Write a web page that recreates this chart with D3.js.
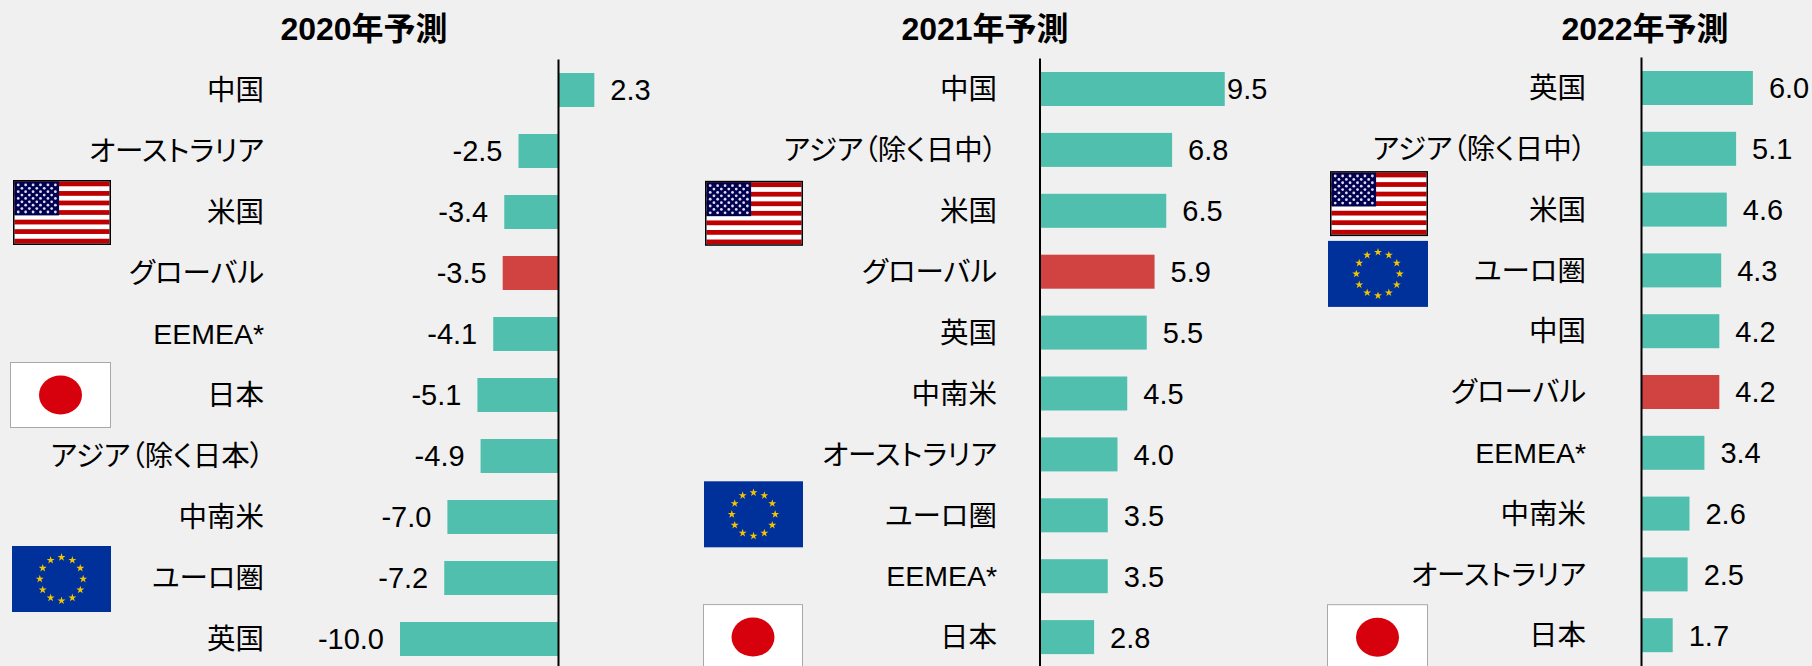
<!DOCTYPE html>
<html lang="ja">
<head>
<meta charset="utf-8">
<script src="https://cdn.jsdelivr.net/npm/d3@7"></script>
<style>
html,body{margin:0;padding:0;background:#f0f0f0;overflow:hidden}
svg{display:block}
text{font-family:"Liberation Sans","Noto Sans CJK JP",sans-serif;fill:#000}
.val{font-size:29px}
.cat text{font-size:28.5px;font-feature-settings:"palt"}
.title{font-size:32px;font-weight:700;text-anchor:middle}
</style>
</head>
<body>
<script>
// ---- data ----
const titles = ["2020年予測", "2021年予測", "2022年予測"];
const categories2020 = ["中国","オーストラリア","米国","グローバル","EEMEA*","日本","アジア（除く日本）","中南米","ユーロ圏","英国"];
const values2020 = [2.3,-2.5,-3.4,-3.5,-4.1,-5.1,-4.9,-7.0,-7.2,-10.0];
const categories2021 = ["中国","アジア（除く日中）","米国","グローバル","英国","中南米","オーストラリア","ユーロ圏","EEMEA*","日本"];
const values2021 = [9.5,6.8,6.5,5.9,5.5,4.5,4.0,3.5,3.5,2.8];
const categories2022 = ["英国","アジア（除く日中）","米国","ユーロ圏","中国","グローバル","EEMEA*","中南米","オーストラリア","日本"];
const values2022 = [6.0,5.1,4.6,4.3,4.2,4.2,3.4,2.6,2.5,1.7];
const globalLabel = "グローバル";
const flagCodes = {"米国":"us","日本":"jp","ユーロ圏":"eu"};

// ---- colours ----
const barColor = "#50bfae", globalColor = "#d14341", bgColor = "#f0f0f0";

// ---- layout ----
const W = 1812, H = 666;
const panels = [
  {title:titles[0],cats:categories2020,vals:values2020,x0:558,pxPerUnit:15.8,labelRight:264,top:59,step:61,titleX:364,maxLabelX:9999,
   flags:{us:{x:13,w:98,h:65,dy:0.5},jp:{x:10,w:101,h:66,dy:0},eu:{x:12,w:99,h:66,dy:1}}},
  {title:titles[1],cats:categories2021,vals:values2021,x0:1039.5,pxPerUnit:19.5,labelRight:997,top:58,step:60.9,titleX:985,maxLabelX:1227,
   flags:{us:{x:705,w:98,h:65,dy:2.5},eu:{x:704,w:99,h:66,dy:-1},jp:{x:703,w:100,h:66,dy:0}}},
  {title:titles[2],cats:categories2022,vals:values2022,x0:1641,pxPerUnit:18.65,labelRight:1586,top:57,step:60.8,titleX:1645,maxLabelX:9999,
   flags:{us:{x:1330,w:98,h:65,dy:-6},eu:{x:1328,w:100,h:66,dy:3.5},jp:{x:1327,w:101,h:66,dy:2}}}
];
const barH = 34, outerGap = 14;

const svg = d3.select("body").append("svg").attr("width",W).attr("height",H);
svg.append("rect").attr("width",W).attr("height",H).attr("fill",bgColor);
const defs = svg.append("defs");
defs.append("filter").attr("id","soft").append("feGaussianBlur").attr("stdDeviation",0.5);
defs.append("filter").attr("id","softer").append("feGaussianBlur").attr("stdDeviation",0.7);

function drawFlag(g, code, box, cy){
  const f = g.append("g").attr("transform",`translate(${box.x},${cy-box.h/2})`);
  const w = box.w, h = box.h;
  if(code==="jp"){
    f.append("rect").attr("x",.5).attr("y",.5).attr("width",w-1).attr("height",h-1).attr("fill","#fff").attr("stroke","#a8a8a8");
    f.append("ellipse").attr("cx",w/2).attr("cy",h/2).attr("rx",21.5).attr("ry",19.5).attr("fill","#d7000f").attr("filter","url(#soft)");
  } else if(code==="eu"){
    f.append("rect").attr("width",w).attr("height",h).attr("fill","#00309a");
    const pts = d3.range(12).map(i=>i*Math.PI/6);
    f.selectAll("path").data(pts).join("path")
      .attr("d",d3.symbol(d3.symbolStar,20))
      .attr("transform",a=>`translate(${w/2+Math.sin(a)*21.7},${h/2-Math.cos(a)*21.7})`)
      .attr("fill","#f2c500").attr("filter","url(#softer)");
  } else {
    f.append("rect").attr("width",w).attr("height",h).attr("fill","#fff");
    const s = d3.scaleBand().domain(d3.range(13)).range([1.5,h-1.5]);
    f.selectAll("rect.s").data(d3.range(0,13,2)).join("rect").attr("class","s")
      .attr("x",1.5).attr("width",w-3).attr("y",d=>s(d)).attr("height",s.bandwidth()).attr("fill","#bf0000");
    const cw = w*0.455, ch = s(7)-1;
    f.append("rect").attr("x",1.5).attr("y",1.5).attr("width",cw).attr("height",ch).attr("fill","#000050");
    const stars=[];
    d3.range(9).forEach(r=>{const n=r%2?5:6;d3.range(n).forEach(c=>stars.push([1.5+cw*((c+(r%2?1:.5))/6),1.5+ch*((r+1)/10)]));});
    f.append("g").attr("filter","url(#soft)").selectAll("circle").data(stars).join("circle")
      .attr("cx",d=>d[0]).attr("cy",d=>d[1]).attr("r",1.4).attr("fill","#dcdcec");
    f.append("rect").attr("x",.75).attr("y",.75).attr("width",w-1.5).attr("height",h-1.5).attr("fill","none").attr("stroke","#000").attr("stroke-width",1.5);
  }
}

panels.forEach(p=>{
  const g = svg.append("g");
  const n = p.cats.length;
  const y = d3.scaleBand().domain(p.cats)
    .range([p.top, p.top + outerGap*2 + p.step*(n-1) + barH])
    .paddingInner((p.step-barH)/p.step).paddingOuter(outerGap/p.step);
  const x = d3.scaleLinear().domain([0,1]).range([p.x0,p.x0+p.pxPerUnit]);

  g.append("text").attr("class","title").attr("x",p.titleX).attr("y",39.5).text(p.title);

  p.cats.forEach(c=>{
    const code = flagCodes[c];
    if(code) drawFlag(g,code,p.flags[code],y(c)+y.bandwidth()/2+p.flags[code].dy);
  });

  const rows = p.cats.map((c,i)=>({c,v:p.vals[i]}));
  g.selectAll("rect.bar").data(rows).join("rect").attr("class","bar")
    .attr("x",d=>Math.min(x(0),x(d.v))).attr("width",d=>Math.abs(x(d.v)-x(0)))
    .attr("y",d=>y(d.c)).attr("height",y.bandwidth())
    .attr("fill",d=>d.c===globalLabel?globalColor:barColor);

  g.selectAll("text.val").data(rows).join("text").attr("class","val")
    .attr("x",d=>d.v<0?x(d.v)-16:Math.min(x(d.v)+16,p.maxLabelX))
    .attr("y",d=>y(d.c)+y.bandwidth()/2).attr("dy","0.36em")
    .attr("text-anchor",d=>d.v<0?"end":"start")
    .text(d=>d.v.toFixed(1));

  const axis = g.append("g").attr("class","cat").attr("transform",`translate(${p.x0},0)`)
    .call(d3.axisLeft(y).tickSize(0).tickPadding(p.x0-p.labelRight));
  axis.select(".domain").attr("stroke","#000").attr("stroke-width",2);
  axis.selectAll("text").attr("dy","0.36em");
});
</script>
</body>
</html>
